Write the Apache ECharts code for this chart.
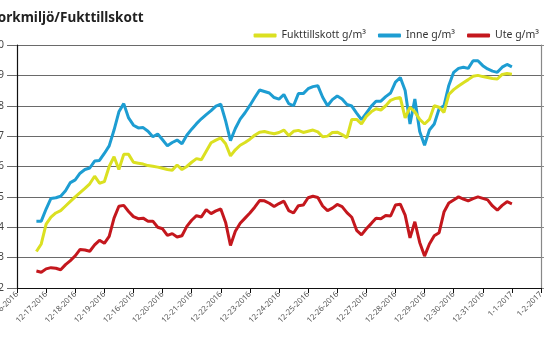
<!DOCTYPE html>
<html>
<head>
<meta charset="utf-8">
<script src="https://cdn.jsdelivr.net/npm/echarts@6/dist/echarts.min.js"></script>
<style>html,body{margin:0;padding:0;background:#fff;}#c{width:550px;height:342px;}</style>
</head>
<body>
<div id="c"></div>
<script>
// X tick labels (one per day)
var dateLabels = ['12-16-2016','12-17-2016','12-18-2016','12-19-2016','12-16-2016','12-20-2016','12-21-2016','12-22-2016','12-23-2016','12-24-2016','12-25-2016','12-26-2016','12-27-2016','12-28-2016','12-29-2016','12-30-2016','12-31-2016','1-1-2017','1-2-2017'];
// samples are 4-hourly (6 per day), first sample at step 4
var stepsPerDay = 6;
var firstStep = 4;
var fukt = [3.2,3.45,4.1,4.33,4.47,4.55,4.7,4.85,5.0,5.14,5.28,5.43,5.68,5.45,5.5,6.0,6.32,5.9,6.4,6.4,6.14,6.11,6.08,6.03,6.01,5.98,5.94,5.9,5.88,6.05,5.9,6.0,6.14,6.26,6.22,6.5,6.78,6.87,6.94,6.75,6.35,6.55,6.7,6.79,6.9,7.03,7.13,7.15,7.11,7.08,7.12,7.2,7.02,7.16,7.19,7.12,7.16,7.2,7.14,6.98,7.0,7.12,7.13,7.05,6.95,7.55,7.55,7.4,7.65,7.8,7.9,7.86,8.0,8.18,8.24,8.27,7.6,7.95,7.8,7.55,7.4,7.55,8.0,7.95,7.78,8.37,8.53,8.65,8.76,8.86,8.97,9.0,8.96,8.93,8.9,8.88,9.03,9.06,9.04];
var inne = [4.2,4.2,4.6,4.95,4.97,5.02,5.2,5.47,5.56,5.78,5.9,5.95,6.18,6.2,6.43,6.68,7.2,7.8,8.07,7.6,7.36,7.27,7.28,7.16,6.98,7.07,6.88,6.68,6.79,6.87,6.75,7.03,7.23,7.41,7.57,7.71,7.84,7.99,8.05,7.5,6.85,7.25,7.56,7.77,8.01,8.27,8.52,8.47,8.42,8.27,8.22,8.37,8.07,8.0,8.4,8.4,8.56,8.63,8.66,8.28,8.0,8.2,8.32,8.22,8.04,7.99,7.76,7.54,7.76,7.98,8.15,8.15,8.3,8.42,8.78,8.93,8.5,7.4,8.22,7.15,6.7,7.2,7.4,7.9,8.0,8.67,9.1,9.23,9.27,9.23,9.48,9.48,9.32,9.21,9.14,9.1,9.27,9.36,9.28];
var ute = [2.56,2.52,2.63,2.67,2.65,2.6,2.77,2.9,3.06,3.27,3.25,3.21,3.42,3.57,3.47,3.7,4.3,4.69,4.72,4.52,4.35,4.28,4.3,4.2,4.2,4.0,3.95,3.73,3.79,3.68,3.72,4.03,4.23,4.38,4.34,4.58,4.45,4.54,4.6,4.16,3.4,3.87,4.13,4.3,4.47,4.66,4.88,4.87,4.79,4.68,4.78,4.86,4.55,4.47,4.71,4.73,4.97,5.02,4.98,4.7,4.55,4.63,4.75,4.68,4.48,4.33,3.9,3.75,3.95,4.12,4.3,4.28,4.39,4.37,4.73,4.76,4.4,3.65,4.18,3.5,3.05,3.45,3.72,3.82,4.5,4.8,4.9,5.0,4.93,4.87,4.94,5.0,4.95,4.9,4.7,4.56,4.72,4.84,4.77];
var seriesNames = ['Fukttillskott g/m³','Inne g/m³','Ute g/m³'];
var colors = ['#dbe021','#1d9dd2','#c4171d'];
var titleText = 'Torkmiljö/Fukttillskott';

function toPairs(arr){
  return arr.map(function(v,i){ return [(firstStep+i)/stepsPerDay, v]; });
}
var FONT = 'Noto Sans';
var chart = echarts.init(document.getElementById('c'), null, {renderer:'canvas'});
var yBase = {
  type:'value', min:2, max:10, interval:1
};
chart.setOption({
  animation:false,
  backgroundColor:'#fff',
  color: colors,
  graphic:[{
    type:'text', x:-9, y:11, z:10,
    style:{text:titleText, fontFamily:FONT, fontSize:13.5, fontWeight:'bold', fill:'#222'}
  }],
  legend:{
    right:6, top:25,
    icon:'roundRect',
    itemWidth:23, itemHeight:4, itemGap:12,
    textStyle:{fontFamily:FONT, fontSize:10.5, color:'#333', padding:[0,0,0,0]},
    data: seriesNames
  },
  grid:{left:17, right:9, top:45, bottom:54, containLabel:false, outerBoundsMode:'none'},
  xAxis:{
    type:'value', min:0, max:dateLabels.length-1, interval:1,
    axisLine:{show:true, lineStyle:{color:'#111', width:1.2}},
    axisTick:{show:true, length:5, lineStyle:{color:'#111'}},
    splitLine:{show:false},
    axisLabel:{
      rotate:45, margin:5, fontFamily:FONT, fontSize:7.8, color:'#555',
      formatter:function(v){ return dateLabels[Math.round(v)] || ''; }
    }
  },
  yAxis:[
    Object.assign({}, yBase, {
      position:'left',
      axisLine:{show:true, lineStyle:{color:'#111', width:1.2}},
      axisTick:{show:true, length:10, lineStyle:{color:'#6a6a6a'}},
      splitLine:{show:true, lineStyle:{color:'#6a6a6a', width:1}},
      axisLabel:{margin:13, fontFamily:FONT, fontSize:10, color:'#444'}
    }),
    Object.assign({}, yBase, {
      position:'right',
      axisLine:{show:true, lineStyle:{color:'#888', width:1.2}},
      axisTick:{show:true, length:3, lineStyle:{color:'#888'}},
      splitLine:{show:false},
      axisLabel:{margin:9, fontFamily:FONT, fontSize:10, color:'#444'}
    })
  ],
  series:[
    {name:seriesNames[0], type:'line', data:toPairs(fukt), showSymbol:false, symbol:'none', lineStyle:{width:3, color:colors[0]}, z:2},
    {name:seriesNames[1], type:'line', data:toPairs(inne), showSymbol:false, symbol:'none', lineStyle:{width:3, color:colors[1]}, z:1},
    {name:seriesNames[2], type:'line', data:toPairs(ute), showSymbol:false, symbol:'none', lineStyle:{width:3, color:colors[2]}, z:3}
  ]
});
</script>
</body>
</html>
